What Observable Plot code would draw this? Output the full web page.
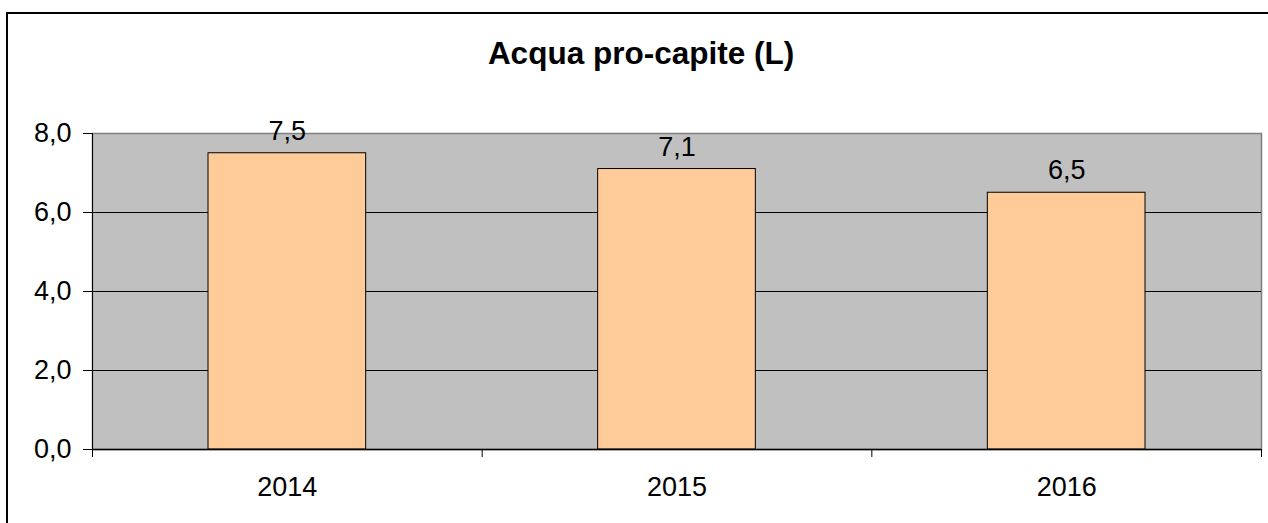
<!DOCTYPE html>
<html>
<head>
<meta charset="utf-8">
<script src="https://cdn.jsdelivr.net/npm/d3@7"></script>
<script src="https://cdn.jsdelivr.net/npm/@observablehq/plot@0.6"></script>
<style>
  html, body { margin: 0; padding: 0; background: #fff; overflow: hidden; }
  #wrap { position: relative; width: 1268px; height: 523px; }
  #border { position: absolute; left: 6px; top: 12px; width: 2000px; height: 2000px;
            border-left: 2px solid #000; border-top: 2px solid #000; box-sizing: border-box; }
  #chart { position: absolute; left: 0; top: 0; }
</style>
</head>
<body>
<div id="wrap"><div id="border"></div><div id="chart"></div></div>
<script>
const titleText = "Acqua pro-capite (L)";
const years = ["2014", "2015", "2016"];
const values = [7.5, 7.1, 6.5];
const yTicks = [0, 2, 4, 6, 8];
const gridTicks = [2, 4, 6];

const fmt = d => d3.format(".1f")(d).replace(".", ",");
const rows = years.map((year, i) => ({year, i, value: values[i]}));
const font = "'Liberation Sans', Arial, Helvetica, sans-serif";

const chart = Plot.plot({
  width: 1268,
  height: 523,
  marginLeft: 92,
  marginRight: 7,
  marginTop: 133,
  marginBottom: 74,
  style: {fontFamily: font, fontSize: "27px", color: "#000", background: "transparent", overflow: "visible"},
  x: {type: "linear", domain: [0, years.length], axis: null, label: null},
  y: {domain: [0, 8], axis: null, label: null},
  marks: [
    Plot.frame({fill: "#c0c0c0", stroke: "#808080", strokeWidth: 1.5}),
    Plot.ruleY(gridTicks, {stroke: "#000", strokeWidth: 1}),
    Plot.rectY(rows, {x1: "i", x2: d => d.i + 1, y: "value", insetLeft: 116, insetRight: 116,
                      fill: "#ffcc99", stroke: "#000", strokeWidth: 1}),
    Plot.ruleY([0], {stroke: "#000", strokeWidth: 1.5}),
    Plot.ruleX([0], {stroke: "#000", strokeWidth: 1}),
    Plot.axisY({ticks: yTicks, tickFormat: fmt, tickSize: 9, tickPadding: 12, label: null,
                stroke: "#000", fill: "#000", fontSize: 27, strokeOpacity: 1}),
    Plot.axisX({ticks: d3.range(years.length + 1), tickFormat: () => "", tickSize: 8, label: null,
                stroke: "#000", strokeOpacity: 1}),
    Plot.axisX({ticks: years.map((y, i) => i + 0.5), tickFormat: t => years[Math.floor(t)], label: null,
                tickSize: 0, tickPadding: 27, fill: "#000", fontSize: 27}),
    Plot.text(rows, {x: d => d.i + 0.5, y: "value", text: d => fmt(d.value), dy: -22,
                     fill: "#000", fontSize: 27}),
    Plot.text([titleText], {frameAnchor: "top", lineAnchor: "middle", dy: -80, dx: -36,
                            fontSize: 31.5, fontWeight: "bold", fill: "#000"})
  ]
});
document.getElementById("chart").appendChild(chart);
</script>
</body>
</html>
